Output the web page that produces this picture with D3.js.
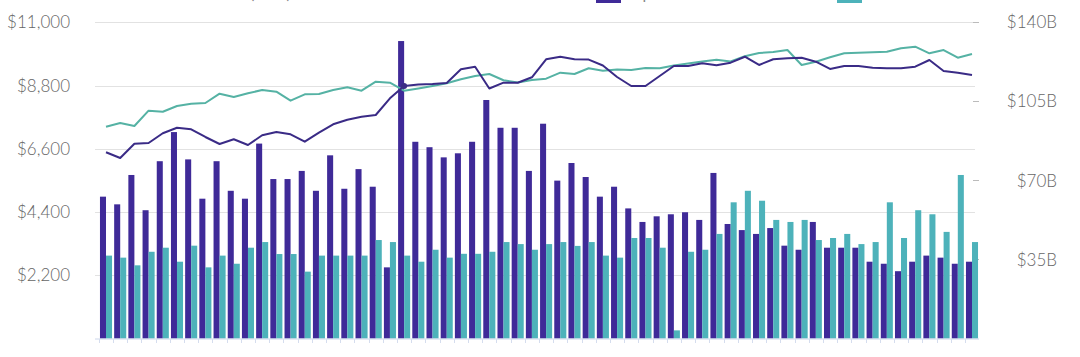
<!DOCTYPE html>
<html>
<head>
<meta charset="utf-8">
<script src="https://cdn.jsdelivr.net/npm/d3@7"></script>
<style>
  html, body { margin: 0; padding: 0; background: #fff; }
  svg { display: block; }
</style>
</head>
<body>
<svg id="chart" width="1080" height="357"></svg>
<script>
// ---------------- DATA ----------------
const categories = [
  "06-01","06-02","06-03","06-04","06-05","06-06","06-07","06-08","06-09","06-10",
  "06-11","06-12","06-13","06-14","06-15","06-16","06-17","06-18","06-19","06-20",
  "06-21","06-22","06-23","06-24","06-25","06-26","06-27","06-28","06-29","06-30",
  "07-01","07-02","07-03","07-04","07-05","07-06","07-07","07-08","07-09","07-10",
  "07-11","07-12","07-13","07-14","07-15","07-16","07-17","07-18","07-19","07-20",
  "07-21","07-22","07-23","07-24","07-25","07-26","07-27","07-28","07-29","07-30",
  "07-31","08-01"
];
// bars, right axis (billions USD)
const volumeA = [62.8,59.4,72.4,56.8,78.5,91.4,79.3,61.9,78.5,65.4,
  61.9,86.3,70.6,70.6,74.2,65.4,81.1,66.3,75.0,67.2,
  31.5,131.7,87.1,84.7,80.2,82.0,87.1,105.6,93.3,93.3,
  74.2,95.1,69.9,77.7,71.5,62.8,67.2,57.6,51.6,54.1,
  55.0,55.9,52.5,73.3,50.7,48.0,46.3,48.9,41.1,39.3,
  51.6,40.2,40.2,40.2,34.0,33.1,29.8,34.0,36.7,35.8,33.1,34.0];
const volumeB = [36.7,35.8,32.4,38.4,40.2,34.0,41.1,31.5,36.7,33.1,
  40.2,42.7,37.4,37.4,29.6,36.7,36.7,36.7,36.7,43.6,
  42.7,36.7,34.0,39.3,35.8,37.5,37.5,38.4,42.7,41.8,
  39.3,41.8,42.7,41.0,42.7,36.7,35.8,44.5,44.5,40.2,
  3.6,38.4,39.3,46.3,60.3,65.4,61.0,52.5,51.6,52.5,
  43.6,44.5,46.3,41.8,42.7,60.3,44.5,56.8,55.0,47.2,72.4,42.7];
// lines, left axis (USD)
const priceA = [6478,6279,6777,6801,7139,7333,7278,7010,6766,6930,
  6732,7069,7184,7104,6846,7159,7452,7612,7716,7775,
  8356,8784,8836,8854,8888,9365,9455,8697,8899,8899,
  9087,9713,9803,9713,9703,9497,9097,8784,8784,9132,
  9480,9480,9574,9508,9595,9803,9515,9716,9748,9768,
  9629,9376,9480,9480,9421,9400,9400,9455,9689,9306,9247,9167];
const priceB = [7368,7497,7393,7925,7890,8088,8168,8193,8516,8401,
  8530,8645,8586,8273,8495,8506,8645,8739,8621,8934,
  8899,8621,8697,8784,8878,9017,9132,9202,8983,8906,
  8993,9038,9247,9202,9400,9313,9355,9341,9410,9400,
  9497,9567,9636,9699,9636,9817,9932,9967,10036,9515,
  9629,9782,9922,9943,9957,9977,10096,10151,9922,10036,9768,9897];
const leftTicks = [2200, 4400, 6600, 8800, 11000];
const rightTicks = [35, 70, 105, 140];
const legendItems = ["BTC Price (USD)", "BTC Index", "Spot Volume", "Futures Volume"];

// ---------------- CHART ----------------
const svg = d3.select("#chart");
const colPurpleBar = "#3f2a98", colTealBar = "#4db2ba";
const colPurpleLine = "#3a2b86", colTealLine = "#55b2a4";
const fontFam = "Lato, 'Open Sans', sans-serif";

const x = d3.scaleBand().domain(categories).range([95, 983]).paddingInner(0.15).paddingOuter(0.35);
const yL = d3.scaleLinear().domain([0, 11000]).range([338.5, 22.3]);
const yR = d3.scaleLinear().domain([0, 140]).range([338.5, 22.3]);
const bw = x.bandwidth() / 2;

// gridlines
svg.append("g").selectAll("line").data(leftTicks).join("line")
  .attr("x1", 95).attr("x2", 975)
  .attr("y1", d => Math.round(yL(d)) + 0.5).attr("y2", d => Math.round(yL(d)) + 0.5)
  .attr("stroke", "#e2e2e2").attr("stroke-width", 1);

// left labels
svg.append("g").selectAll("text").data(leftTicks).join("text")
  .attr("x", 70).attr("y", d => yL(d)).attr("dy", "0.36em")
  .attr("text-anchor", "end").attr("font-family", fontFam).attr("font-weight", 300)
  .attr("font-size", 17).attr("fill", "#666")
  .text(d => "$" + d3.format(",")(d));

// right ticks + labels
svg.append("g").selectAll("line").data(rightTicks).join("line")
  .attr("x1", 973).attr("x2", 979)
  .attr("y1", d => Math.round(yR(d)) + 0.5).attr("y2", d => Math.round(yR(d)) + 0.5)
  .attr("stroke", "#bbb");
svg.append("g").selectAll("text").data(rightTicks).join("text")
  .attr("x", 1057).attr("y", d => yR(d)).attr("dy", "0.36em")
  .attr("text-anchor", "end").attr("font-family", fontFam).attr("font-weight", 300)
  .attr("font-size", 17).attr("fill", "#666")
  .text(d => "$" + d + "B");

// bars
svg.append("g").selectAll("rect").data(categories).join("rect")
  .attr("x", d => x(d)).attr("width", bw)
  .attr("y", (d, i) => yR(volumeA[i])).attr("height", (d, i) => yR(0) - yR(volumeA[i]))
  .attr("fill", colPurpleBar);
svg.append("g").selectAll("rect").data(categories).join("rect")
  .attr("x", d => x(d) + bw).attr("width", bw)
  .attr("y", (d, i) => yR(volumeB[i])).attr("height", (d, i) => yR(0) - yR(volumeB[i]))
  .attr("fill", colTealBar);

// x axis line + ticks
const step = x.step();
svg.append("line").attr("x1", 95).attr("x2", 979).attr("y1", 339).attr("y2", 339)
  .attr("stroke", "#ccd6eb");
svg.append("g").selectAll("line").data(categories).join("line")
  .attr("x1", d => Math.round(x(d) - step * 0.075) + 0.5)
  .attr("x2", d => Math.round(x(d) - step * 0.075) + 0.5)
  .attr("y1", 339).attr("y2", 343).attr("stroke", "#d5ddee");

// lines
const cx = d => x(d) + x.bandwidth() / 2;
const lineA = d3.line().x((d, i) => cx(categories[i])).y(d => yL(d));
svg.append("path").datum(priceB).attr("d", lineA)
  .attr("fill", "none").attr("stroke", colTealLine).attr("stroke-width", 2).attr("stroke-linejoin", "round");
svg.append("path").datum(priceA).attr("d", lineA)
  .attr("fill", "none").attr("stroke", colPurpleLine).attr("stroke-width", 2).attr("stroke-linejoin", "round");
svg.append("circle").attr("cx", cx(categories[21])).attr("cy", yL(priceA[21])).attr("r", 3)
  .attr("fill", colPurpleLine);

// legend (cut off at the top, as in the reference)
const lg = svg.append("g").attr("font-family", fontFam).attr("font-size", 16).attr("fill", "#888");
lg.append("text").attr("x", 177).attr("y", -1).text(legendItems[0]);
lg.append("text").attr("x", 457).attr("y", -1).text(legendItems[1]);
lg.append("rect").attr("x", 596).attr("y", -12).attr("width", 25).attr("height", 15).attr("fill", colPurpleBar);
lg.append("text").attr("x", 634).attr("y", -1).text(legendItems[2]);
lg.append("rect").attr("x", 837).attr("y", -12).attr("width", 25).attr("height", 15).attr("fill", colTealBar);
lg.append("text").attr("x", 888).attr("y", -1).text(legendItems[3]);
</script>
</body>
</html>
